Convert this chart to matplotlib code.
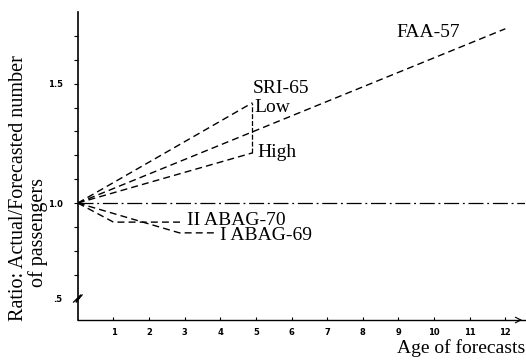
import matplotlib.pyplot as plt

# ── Data ──────────────────────────────────────────────────────────────────────
faa_x = [0, 12]
faa_y = [1.0, 1.73]

sri_low_x = [0, 4.9]
sri_low_y = [1.0, 1.42]
sri_high_x = [0, 4.9]
sri_high_y = [1.0, 1.21]

abag70_x = [0, 1, 2.9]
abag70_y = [1.0, 0.92, 0.92]
abag69_x = [0, 2.85, 3.9]
abag69_y = [1.0, 0.875, 0.875]

xticks = list(range(1, 13))
yticks = [0.7, 0.8, 0.9, 1.0, 1.1, 1.2, 1.3, 1.4, 1.5, 1.6, 1.7]
ylabels = {1.0: "1.0", 1.5: "1.5"}

SERIF = "Liberation Serif"
FS = 14

fig = plt.figure(figsize=(5.26, 3.61), dpi=100)
ax = fig.add_axes([0.148, 0.1136, 0.85, 0.853])

dash = (0, (5, 3))
ax.axhline(1.0, color="black", lw=0.9, linestyle=(0, (12, 3, 1.5, 3)))
ax.plot(faa_x, faa_y, color="black", lw=1, linestyle=dash)
ax.plot(sri_low_x, sri_low_y, color="black", lw=1, linestyle=dash)
ax.plot(sri_high_x, sri_high_y, color="black", lw=1, linestyle=dash)
ax.plot([4.9, 4.9], [sri_high_y[-1], sri_low_y[-1]], color="black", lw=0.9,
        linestyle=(0, (4, 1.5)))
ax.plot(abag70_x, abag70_y, color="black", lw=1, linestyle=dash)
ax.plot(abag69_x, abag69_y, color="black", lw=1, linestyle=dash)

# labels on the lines
ax.text(8.95, 1.715, "FAA-57", family=SERIF, fontsize=FS, va="center")
ax.text(4.9, 1.48, "SRI-65", family=SERIF, fontsize=FS, va="center")
ax.text(4.95, 1.40, "Low", family=SERIF, fontsize=FS, va="center")
ax.text(5.05, 1.21, "High", family=SERIF, fontsize=FS, va="center")
ax.text(3.05, 0.928, "II ABAG-70", family=SERIF, fontsize=FS, va="center")
ax.text(4.0, 0.862, "I ABAG-69", family=SERIF, fontsize=FS, va="center")

ax.set_xlim(0, 12.55)
ax.set_ylim(0.51, 1.80)

for s in ["top", "right"]:
    ax.spines[s].set_visible(False)
ax.spines["left"].set_linewidth(1.2)
ax.spines["bottom"].set_linewidth(1.0)

ax.set_xticks(xticks)
ax.set_xticklabels([str(t) for t in xticks], fontsize=6, fontweight="bold")
ax.tick_params(axis="x", direction="in", length=2, pad=6)

ax.set_yticks(yticks + [0.6])
ax.set_yticklabels([ylabels.get(t, "") for t in yticks] + [".5"],
                   fontsize=6, fontweight="bold")
ax.tick_params(axis="y", direction="out", length=3, pad=8)
ax.yaxis.get_major_ticks()[-1].tick1line.set_visible(False)

# axis break mark near .5
ax.plot([-0.12, 0.08, -0.05, 0.12], [0.585, 0.615, 0.585, 0.615],
        color="black", lw=0.9, clip_on=False)

# arrow head at the end of the x axis
ax.annotate("", xy=(12.55, 0.51), xytext=(12.3, 0.51),
            arrowprops=dict(arrowstyle="->", lw=0.8, color="black"),
            annotation_clip=False)

fig.text(0.036, 0.48, "Ratio: Actual/Forecasted number", family=SERIF,
         fontsize=14.5, rotation=90, ha="center", va="center")
fig.text(0.072, 0.357, "of passengers", family=SERIF,
         fontsize=14.5, rotation=90, ha="center", va="center")
fig.text(0.998, 0.035, "Age of forecasts", family=SERIF, fontsize=14,
         ha="right", va="center")

plt.savefig("out.png", dpi=100)
